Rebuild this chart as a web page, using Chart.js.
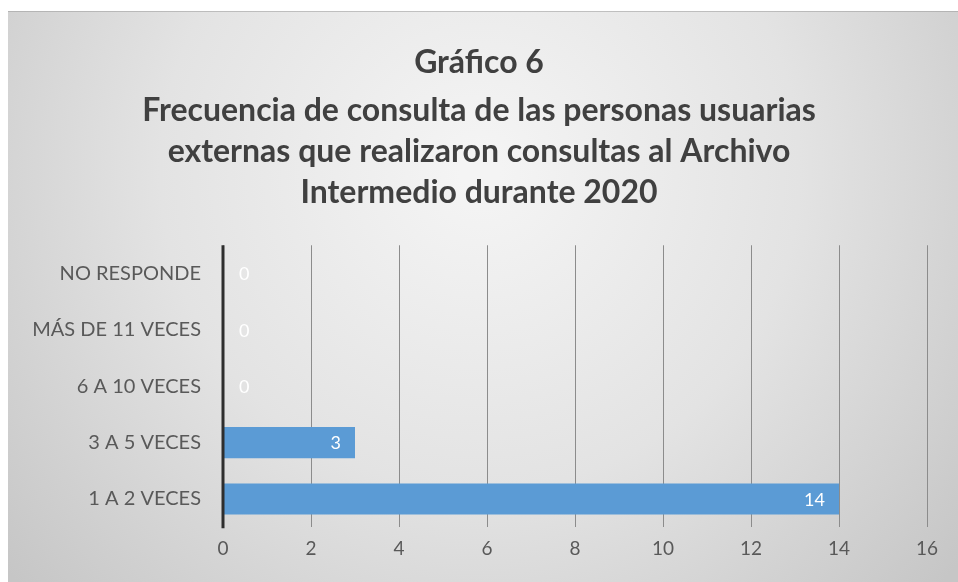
<!DOCTYPE html>
<html>
<head>
<meta charset="utf-8">
<script src="https://cdn.jsdelivr.net/npm/chart.js@4/dist/chart.umd.min.js"></script>
<style>
html,body{margin:0;padding:0;background:#fff;}
#wrap{width:958px;height:582px;position:relative;}
</style>
</head>
<body>
<div id="wrap"><canvas id="c" width="958" height="582"></canvas></div>
<script>
const categories = ["NO RESPONDE", "MÁS DE 11 VECES", "6 A 10 VECES", "3 A 5 VECES", "1 A 2 VECES"];
const values = [0, 0, 0, 3, 14];
const xTicks = [0, 2, 4, 6, 8, 10, 12, 14, 16];
const titleLine = "Gráfico 6";
const subtitleLines = ["Frecuencia de consulta de las personas usuarias", "externas que realizaron consultas al Archivo", "Intermedio durante 2020"];

const FONT = "Lato, 'Open Sans', sans-serif";

const bgPlugin = {
  id: 'bg',
  beforeDraw(chart) {
    const ctx = chart.ctx;
    ctx.save();
    ctx.fillStyle = '#ffffff';
    ctx.fillRect(0, 0, chart.width, chart.height);
    const g = ctx.createRadialGradient(480, 170, 20, 480, 170, 620);
    g.addColorStop(0, '#f4f4f4');
    g.addColorStop(0.5, '#e3e3e3');
    g.addColorStop(1, '#c6c6c6');
    ctx.fillStyle = g;
    ctx.fillRect(8, 11, chart.width - 8, chart.height - 11);
    ctx.strokeStyle = 'rgba(150,150,150,0.5)';
    ctx.lineWidth = 1;
    ctx.beginPath();
    ctx.moveTo(8, 11.5); ctx.lineTo(chart.width, 11.5);
    ctx.stroke();
    ctx.restore();
  }
};

const labelPlugin = {
  id: 'vals',
  afterDatasetsDraw(chart) {
    const ctx = chart.ctx;
    const meta = chart.getDatasetMeta(0);
    const xs = chart.scales.x;
    ctx.save();
    ctx.font = "18px " + FONT;
    ctx.fillStyle = '#ffffff';
    ctx.textBaseline = 'middle';
    meta.data.forEach((bar, i) => {
      const v = values[i];
      const xEnd = xs.getPixelForValue(v);
      if (v > 0) {
        ctx.textAlign = 'right';
        ctx.fillText(String(v), xEnd - 14, bar.y + 1);
      } else {
        ctx.textAlign = 'left';
        ctx.fillText(String(v), xEnd + 16, bar.y + 1);
      }
    });
    ctx.restore();
  }
};

const axisLinePlugin = {
  id: 'axisline',
  afterDatasetsDraw(chart) {
    const ctx = chart.ctx;
    const a = chart.chartArea;
    const x0 = chart.scales.x.getPixelForValue(0);
    ctx.save();
    ctx.strokeStyle = '#2e2e2e';
    ctx.lineWidth = 3;
    ctx.beginPath();
    ctx.moveTo(x0, a.top);
    ctx.lineTo(x0, a.bottom + 1);
    ctx.stroke();
    ctx.restore();
  }
};

new Chart(document.getElementById('c'), {
  type: 'bar',
  data: {
    labels: categories,
    datasets: [{
      data: values,
      backgroundColor: '#5b9bd5',
      borderWidth: 0,
      barPercentage: 0.55,
      categoryPercentage: 1.0
    }]
  },
  options: {
    indexAxis: 'y',
    responsive: false,
    animation: false,
    devicePixelRatio: 1,
    layout: { padding: { left: 31, right: 31, top: 0, bottom: 12 } },
    plugins: {
      legend: { display: false },
      tooltip: { enabled: false },
      title: {
        display: true,
        text: titleLine,
        color: '#404040',
        font: { family: FONT, size: 32, weight: 'bold', lineHeight: 1.2 },
        padding: { top: 43, bottom: 9 }
      },
      subtitle: {
        display: true,
        text: subtitleLines,
        color: '#404040',
        font: { family: FONT, size: 32, weight: 'bold', lineHeight: 1.28 },
        padding: { top: 0, bottom: 32 }
      }
    },
    scales: {
      x: {
        min: 0, max: 16,
        afterBuildTicks(scale) { scale.ticks = xTicks.map(v => ({ value: v })); },
        grid: { color: '#8c8c8c', lineWidth: 1, drawTicks: false },
        border: { display: false },
        ticks: { color: '#595959', font: { family: FONT, size: 19 }, padding: 10 }
      },
      y: {
        afterFit(scale) { scale.width = 192; },
        grid: { display: false, drawTicks: false },
        border: { display: false },
        ticks: { color: '#595959', font: { family: FONT, size: 20 }, padding: 22 }
      }
    }
  },
  plugins: [bgPlugin, labelPlugin, axisLinePlugin]
});
</script>
</body>
</html>
